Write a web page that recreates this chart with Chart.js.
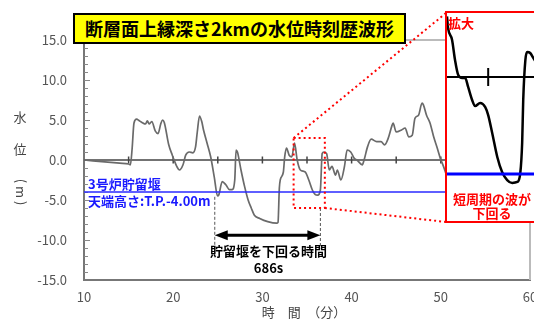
<!DOCTYPE html>
<html lang="ja">
<head>
<meta charset="UTF-8">
<title>断層面上縁深さ2kmの水位時刻歴波形</title>
<style>
  * { margin:0; padding:0; box-sizing:border-box; }
  body { width:534px; height:321px; overflow:hidden; background:#fff; position:relative;
         font-family:"Noto Sans CJK JP", sans-serif; }
  #main { position:absolute; left:0; top:0; }
  #title { position:absolute; left:73px; top:13px; width:333px; height:31px; background:#ffff00;
           border:2px solid #000; font-weight:bold; font-size:18px; line-height:26px;
           text-align:center; color:#000; white-space:nowrap; }
  #zoomBox { position:absolute; left:445px; top:11px; width:96px; height:212px;
             border:2px solid #ff0000; background:#fff; }
  #inset { display:block; }
</style>
<script src="https://cdn.jsdelivr.net/npm/chart.js"></script>
</head>
<body>
<canvas id="main" width="534" height="321"></canvas>
<div id="title">断層面上縁深さ2kmの水位時刻歴波形</div>
<div id="zoomBox"><canvas id="inset" width="92" height="208"></canvas></div>

<script>
// --- data ---
const times = [10.0, 11.0, 12.0, 13.0, 14.0, 15.0, 15.2, 15.4, 15.6, 15.9, 16.2, 16.5, 16.9, 17.1, 17.3, 17.6,
  18.0, 18.3, 18.6, 18.8, 19.0, 19.5, 19.9, 20.1, 20.4, 20.7, 21.1, 21.4, 21.8, 22.2, 22.5, 22.7, 22.95,
  23.2, 23.4, 23.8, 24.2, 24.6, 24.97, 25.1, 25.5, 25.9, 26.3, 26.6, 26.9, 27.05, 27.2, 27.6, 28.0, 28.4,
  28.75, 29.1, 29.7, 30.6, 31.6, 31.75, 31.9, 32.0, 32.35, 32.5, 32.7, 33.0, 33.3, 33.6, 33.9, 34.25, 34.8,
  35.2, 35.6, 35.9, 36.2, 36.5, 36.7, 36.9, 37.2, 37.5, 37.8, 38.2, 38.4, 38.8, 39.2, 39.5, 39.9, 40.3,
  40.6, 41.2, 41.4, 41.8, 42.2, 42.8, 43.3, 43.7, 44.1, 44.5, 44.65, 45.0, 45.6, 46.0, 46.4, 46.8, 47.1,
  47.5, 47.9, 48.05, 48.4, 48.8, 49.2, 49.6, 49.95, 50.3, 50.7, 51.0, 51.3];
const levels = [0.0, -0.1, -0.2, -0.3, -0.4, -0.5, -0.6, 1.5, 4.6, 5.1, 4.9, 4.7, 4.5, 4.9, 4.5, 4.8,
  3.6, 3.3, 4.5, 5.0, 4.7, 1.9, 0.6, 0.0, -0.8, -1.25, -0.6, 0.6, 1.0, 0.9, 1.6, 3.5, 5.5,
  4.8, 3.75, 2.1, 0.4, -2.1, -4.5, -4.4, -2.7, -3.1, -3.7, -3.7, -2.5, 1.25, 1.0, -1.25, -3.3, -5.0,
  -6.0, -6.9, -7.3, -7.7, -7.9, -7.8, -3.5, -2.5, -1.5, 0.4, 1.5, 0.6, 0.4, 2.1, 0.0, -1.25, -1.5,
  -2.5, -3.75, -4.3, -4.4, -3.75, 0.8, 1.0, 0.8, -1.25, -0.8, -1.9, -1.25, -2.5, -0.8, 1.25, 1.0, 0.2,
  0.0, -0.6, 0.0, 1.7, 2.6, 2.3, 2.3, 1.9, 2.7, 4.2, 4.6, 3.5, 3.75, 4.0, 2.9, 3.1, 5.2,
  5.6, 7.1, 6.9, 5.6, 4.6, 2.9, 1.5, 0.2, -0.8, -2.1, -3.1, -4.0];

// enlarged part (拡大)
const insetTimes = [33.46, 33.50, 33.65, 33.76, 33.88, 34.03, 34.14, 34.25, 34.40, 34.51, 34.70, 34.89, 35.00,
  35.15, 35.34, 35.52, 35.71, 35.90, 36.09, 36.20, 36.27, 36.31, 36.39, 36.46, 36.57, 36.69, 36.90];
const insetLevels = [2.5, 2.02, 1.53, 0.70, 0.08, -0.04, -0.04, -0.41, -0.95, -1.20, -1.07, -1.24, -1.57,
  -2.31, -3.30, -3.92, -4.25, -4.37, -4.33, -3.96, -2.72, -0.95, 0.70, 1.03, 0.99, 0.78, 0.4];

const weirLevel = -4.0;           // 3号炉貯留堰 天端高さ
const belowStart = 24.66;         // 貯留堰を下回り始める時刻(分)
const belowEnd = 36.5;            // 貯留堰を下回り終わる時刻(分)
const belowSeconds = 686;
const zoomT = [33.5, 37.0];       // 拡大範囲(分)
const zoomV = [-6.0, 2.75];       // 拡大範囲(m)
const xRange = [10, 60];
const yRange = [-15, 15];
const insetX = [33.46, 36.9];
const insetY = [-5.94, 2.64];

const FONT = '"Noto Sans CJK JP", sans-serif';
Chart.defaults.font.family = FONT;

const pts = (ts, vs) => ts.map((t, i) => ({ x: t, y: vs[i] }));

const overlay = {
  id: 'overlay',
  beforeDatasetsDraw(chart) {
    const { ctx, chartArea: a, scales: { x, y } } = chart;
    ctx.save();
    // top / right frame
    ctx.strokeStyle = '#bbb'; ctx.lineWidth = 2;
    ctx.beginPath(); ctx.moveTo(a.left, a.top); ctx.lineTo(a.right, a.top); ctx.lineTo(a.right, a.bottom); ctx.stroke();
    // minor ticks on the y axis
    ctx.strokeStyle = '#888'; ctx.lineWidth = 1;
    for (let v = yRange[0] + 1; v < yRange[1]; v++) {
      const py = Math.round(y.getPixelForValue(v)) + 0.5;
      ctx.beginPath(); ctx.moveTo(a.left, py); ctx.lineTo(a.left + (v % 5 === 0 ? 6 : 4), py); ctx.stroke();
    }
    // ticks on the zero line
    ctx.strokeStyle = '#444'; ctx.lineWidth = 1.5;
    const y0 = y.getPixelForValue(0);
    for (let t = 15; t < 60; t += 5) {
      const px = x.getPixelForValue(t);
      ctx.beginPath(); ctx.moveTo(px, y0 - 3.5); ctx.lineTo(px, y0 + 3.5); ctx.stroke();
    }
    ctx.restore();
  },
  afterDatasetsDraw(chart) {
    const { ctx, scales: { x, y } } = chart;
    ctx.save();
    // dashed verticals
    const xs = x.getPixelForValue(belowStart), xe = x.getPixelForValue(belowEnd);
    const ay = y.getPixelForValue(-9.4);
    ctx.strokeStyle = '#555'; ctx.lineWidth = 1; ctx.setLineDash([3, 2]);
    ctx.beginPath();
    ctx.moveTo(xs, y.getPixelForValue(-4.6)); ctx.lineTo(xs, ay + 13);
    ctx.moveTo(xe, y.getPixelForValue(-6.0)); ctx.lineTo(xe, ay + 13);
    ctx.stroke();
    ctx.setLineDash([]);
    // double arrow
    ctx.strokeStyle = '#000'; ctx.fillStyle = '#000'; ctx.lineWidth = 3;
    ctx.beginPath(); ctx.moveTo(xs + 10, ay); ctx.lineTo(xe - 10, ay); ctx.stroke();
    ctx.beginPath(); ctx.moveTo(xs, ay); ctx.lineTo(xs + 13, ay - 5); ctx.lineTo(xs + 13, ay + 5); ctx.closePath(); ctx.fill();
    ctx.beginPath(); ctx.moveTo(xe, ay); ctx.lineTo(xe - 13, ay - 5); ctx.lineTo(xe - 13, ay + 5); ctx.closePath(); ctx.fill();
    // arrow text
    ctx.font = 'bold 13px ' + FONT; ctx.textAlign = 'center'; ctx.textBaseline = 'middle';
    const cx = (xs + xe) / 2 + 1;
    ctx.fillText('貯留堰を下回る時間', cx, ay + 16);
    ctx.fillText(belowSeconds + 's', cx, ay + 33);
    // weir labels
    ctx.fillStyle = '#1a1aff'; ctx.textAlign = 'left'; ctx.font = 'bold 13px ' + FONT;
    const yw = y.getPixelForValue(weirLevel);
    ctx.fillText('3号炉貯留堰', 88, yw - 8);
    ctx.fillText('天端高さ:T.P.-4.00m', 88, yw + 9);
    // red dotted zoom frame and connectors
    const bx0 = x.getPixelForValue(zoomT[0]), bx1 = x.getPixelForValue(zoomT[1]);
    const by0 = y.getPixelForValue(zoomV[1]), by1 = y.getPixelForValue(zoomV[0]);
    ctx.strokeStyle = '#ff0000'; ctx.lineWidth = 2; ctx.setLineDash([2, 3]);
    ctx.strokeRect(bx0, by0, bx1 - bx0, by1 - by0);
    ctx.beginPath();
    ctx.moveTo(bx0, by0); ctx.lineTo(446, 13);
    ctx.moveTo(bx1, by1); ctx.lineTo(446, 222);
    ctx.stroke();
    ctx.setLineDash([]);
    // axis titles
    ctx.fillStyle = '#444'; ctx.font = '13px ' + FONT; ctx.textAlign = 'center';
    ctx.fillText('時　間　（分）', 304, 312);
    ctx.fillText('水', 20, 117);
    ctx.fillText('位', 20, 149);
    ctx.translate(21, 192); ctx.rotate(Math.PI / 2);
    ctx.fillText('( m )', 0, 0);
    ctx.restore();
  }
};

new Chart(document.getElementById('main'), {
  type: 'line',
  data: {
    datasets: [
      { data: [{ x: xRange[0], y: weirLevel }, { x: xRange[1], y: weirLevel }], borderColor: '#2a2aff',
        borderWidth: 1.6, pointRadius: 0, order: 0 },
      { data: pts(times, levels), borderColor: '#6a6a6a', borderWidth: 1.7, pointRadius: 0,
        cubicInterpolationMode: 'monotone', order: 1 },
      { data: [{ x: xRange[0], y: 0 }, { x: xRange[1], y: 0 }], borderColor: '#444',
        borderWidth: 1.5, pointRadius: 0, order: 2 }
    ]
  },
  options: {
    responsive: false, animation: false, devicePixelRatio: 1,
    layout: { padding: { top: 40, right: 4, left: 0, bottom: 0 } },
    plugins: { legend: { display: false }, tooltip: { enabled: false } },
    scales: {
      x: {
        type: 'linear', min: xRange[0], max: xRange[1],
        grid: { display: false, drawTicks: false },
        border: { color: '#777', width: 2 },
        ticks: { stepSize: 10, padding: 9, color: '#555', font: { size: 13 } },
        afterFit: s => { s.height = 41; s.paddingLeft = 0; s.paddingRight = 0; }
      },
      y: {
        min: yRange[0], max: yRange[1],
        grid: { display: false, drawTicks: false },
        border: { color: '#777', width: 2 },
        ticks: { stepSize: 1, autoSkip: false, padding: 17, color: '#555', font: { size: 13 },
                 callback: v => (v % 5 === 0 ? v.toFixed(1) : '') },
        afterFit: s => { s.width = 84; s.paddingTop = 0; s.paddingBottom = 0; }
      }
    }
  },
  plugins: [overlay]
});

const insetDeco = {
  id: 'insetDeco',
  afterDatasetsDraw(chart) {
    const { ctx, scales: { x, y } } = chart;
    ctx.save();
    const y0 = y.getPixelForValue(0), px = x.getPixelForValue(35);
    ctx.strokeStyle = '#000'; ctx.lineWidth = 2;
    ctx.beginPath(); ctx.moveTo(px, y0 - 9); ctx.lineTo(px, y0 + 9); ctx.stroke();
    ctx.fillStyle = '#ff0000'; ctx.font = 'bold 13px ' + FONT; ctx.textBaseline = 'middle';
    ctx.textAlign = 'left';
    ctx.fillText('拡大', 1, 10);
    ctx.textAlign = 'center';
    ctx.fillText('短周期の波が', 45, 186);
    ctx.fillText('下回る', 45, 200);
    ctx.restore();
  }
};

new Chart(document.getElementById('inset'), {
  type: 'line',
  data: {
    datasets: [
      { data: [{ x: insetX[0], y: weirLevel }, { x: insetX[1], y: weirLevel }], borderColor: '#0000ff',
        borderWidth: 3, pointRadius: 0, order: 0 },
      { data: pts(insetTimes, insetLevels), borderColor: '#000', borderWidth: 2.5, pointRadius: 0,
        cubicInterpolationMode: 'monotone', order: 1 },
      { data: [{ x: insetX[0], y: 0 }, { x: insetX[1], y: 0 }], borderColor: '#000',
        borderWidth: 2, pointRadius: 0, order: 2 }
    ]
  },
  options: {
    responsive: false, animation: false, devicePixelRatio: 1,
    layout: { padding: 0 },
    plugins: { legend: { display: false }, tooltip: { enabled: false } },
    scales: {
      x: { type: 'linear', display: false, min: insetX[0], max: insetX[1] },
      y: { display: false, min: insetY[0], max: insetY[1] }
    }
  },
  plugins: [insetDeco]
});
</script>
</body>
</html>
